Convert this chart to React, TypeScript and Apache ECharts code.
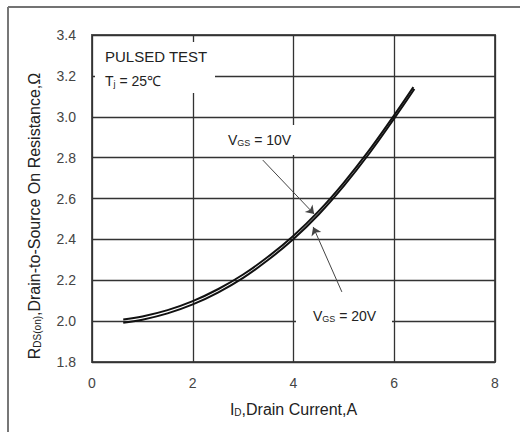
import React, { useEffect, useRef } from "react";
import * as echarts from "echarts";

// Drain current (A) and on-resistance (Ohm) for the two gate voltages
const currentVgs10 = [0.62, 1.0, 1.5, 2.0, 2.5, 3.0, 3.5, 4.0, 4.5, 5.0, 5.5, 6.0, 6.38];
const resistanceVgs10 = [2.008, 2.023, 2.054, 2.098, 2.156, 2.228, 2.316, 2.418, 2.538, 2.678, 2.835, 3.008, 3.145];
const currentVgs20 = [0.62, 1.0, 1.5, 2.0, 2.5, 3.0, 3.5, 4.0, 4.5, 5.0, 5.5, 6.0, 6.4];
const resistanceVgs20 = [1.992, 2.007, 2.038, 2.082, 2.14, 2.212, 2.3, 2.402, 2.522, 2.662, 2.819, 2.992, 3.136];

// Annotation arrows (data coordinates: from label to curve)
const arrowVgs10 = [[3.39, 2.788], [4.41, 2.524]];
const arrowVgs20 = [[4.96, 2.143], [4.39, 2.461]];

const FONT = "'Liberation Sans', Arial, sans-serif";
const mkRich = (size: number, sub: number) => ({
  n: { fontFamily: FONT, fontSize: size, color: "#222", lineHeight: size + 2, verticalAlign: "bottom" },
  s: { fontFamily: FONT, fontSize: sub, color: "#222", lineHeight: sub + 3, verticalAlign: "bottom" },
});
const rich = mkRich(14, 9);
const richTitle = mkRich(16, 10);

export default function App() {
  const ref = useRef<HTMLDivElement>(null);
  useEffect(() => {
    const chart = echarts.init(ref.current!, null, { renderer: "svg" });
    const zip = (xs: number[], ys: number[]) => xs.map((x, i) => [x, ys[i]]);
    const textStyle = (text: string, r: any = rich) => ({ text, rich: r, fill: "#222", verticalAlign: "middle" });
    chart.setOption({
      animation: false,
      backgroundColor: "#fff",
      grid: { left: 92, top: 35, right: 25, bottom: 70, show: true, borderColor: "#555", borderWidth: 2 },
      xAxis: {
        type: "value",
        min: 0,
        max: 8,
        interval: 2,
        axisLine: { show: false },
        axisTick: { show: false },
        axisLabel: { fontFamily: FONT, fontSize: 14, color: "#444", margin: 14 },
        splitLine: { show: true, lineStyle: { color: "#333", width: 1.3 } },
        name: "{n|I}{s|D}{n|,Drain Current,A}",
        nameLocation: "middle",
        nameGap: 37,
        nameTextStyle: { rich: richTitle },
      },
      yAxis: {
        type: "value",
        min: 1.8,
        max: 3.4,
        interval: 0.2,
        axisLine: { show: false },
        axisTick: { show: false },
        axisLabel: { fontFamily: FONT, fontSize: 14, color: "#444", margin: 16, formatter: (v: number) => v.toFixed(1) },
        splitLine: { show: true, lineStyle: { color: "#333", width: 1.3 } },
      },
      series: [
        {
          name: "VGS = 10V",
          type: "line",
          data: zip(currentVgs10, resistanceVgs10),
          smooth: 0.4,
          symbol: "none",
          lineStyle: { color: "#111", width: 2 },
          markLine: {
            silent: true,
            symbol: ["none", "arrow"],
            symbolSize: 8,
            label: { show: false },
            lineStyle: { color: "#444", width: 1, type: "solid" },
            data: [
              [{ coord: arrowVgs10[0] }, { coord: arrowVgs10[1] }],
              [{ coord: arrowVgs20[0] }, { coord: arrowVgs20[1] }],
            ],
          },
        },
        {
          name: "VGS = 20V",
          type: "line",
          data: zip(currentVgs20, resistanceVgs20),
          smooth: 0.4,
          symbol: "none",
          lineStyle: { color: "#111", width: 2 },
        },
      ],
      graphic: [
        { type: "line", z: 5, shape: { x1: 8, y1: 7, x2: 520, y2: 7 }, style: { stroke: "#444", lineWidth: 1.5 } },
        { type: "line", z: 5, shape: { x1: 8, y1: 7, x2: 8, y2: 432 }, style: { stroke: "#777", lineWidth: 2 } },
        { type: "rect", z: 1, shape: { x: 95, y: 42, width: 120, height: 51 }, style: { fill: "#fff" } },
        { type: "rect", z: 1, shape: { x: 222, y: 125, width: 78, height: 30 }, style: { fill: "#fff" } },
        { type: "rect", z: 1, shape: { x: 296, y: 298, width: 96, height: 42 }, style: { fill: "#fff" } },
        { type: "text", z: 6, x: 105, y: 55, style: textStyle("{n|PULSED TEST}", mkRich(15, 9)) },
        { type: "text", z: 6, x: 105, y: 80, style: textStyle("{n|T}{s|j}{n| = 25℃}") },
        { type: "text", z: 6, x: 228, y: 139, style: textStyle("{n|V}{s|GS}{n| = 10V}") },
        { type: "text", z: 6, x: 313, y: 315, style: textStyle("{n|V}{s|GS}{n| = 20V}") },
        {
          type: "text",
          z: 6,
          x: 33,
          y: 216,
          rotation: Math.PI / 2,
          style: { ...textStyle("{n|R}{s|DS(on)}{n|,Drain-to-Source On Resistance,Ω}", richTitle), align: "center" },
        },
      ],
    });
    return () => chart.dispose();
  }, []);
  return (
    <div
      ref={ref}
      style={{ position: "fixed", left: 0, top: 0, width: 520, height: 432, background: "#fff" }}
    />
  );
}
